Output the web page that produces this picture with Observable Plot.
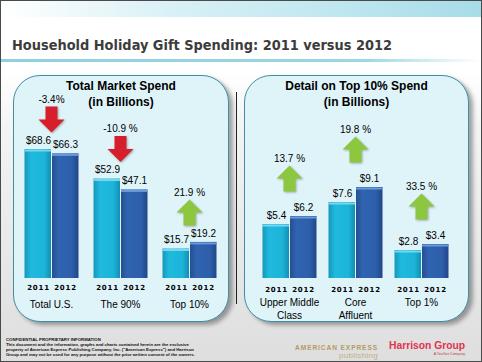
<!DOCTYPE html>
<html><head><meta charset="utf-8">
<script src="https://cdn.jsdelivr.net/npm/d3@7"></script>
<script src="https://cdn.jsdelivr.net/npm/@observablehq/plot@0.6"></script>
<style>
html,body{margin:0;padding:0;background:#fff;}
#slide{position:relative;width:482px;height:362px;overflow:hidden;background:linear-gradient(to bottom,#fff 0%,#fff 20%,#f4f4f4 35%,#dedede 100%);font-family:"Liberation Sans",Arial,sans-serif;}
.abs{position:absolute;}
#frame{left:0;top:0;width:482px;height:362px;box-sizing:border-box;border:1px solid #4a4a4a;z-index:10;}
#band{left:0;top:0;width:482px;height:17px;background:linear-gradient(to right,#fff 0%,#d9f1f6 35%,#bfe7ef 70%,#a6dce8 100%);}
#title{left:12px;top:36px;font-family:"DejaVu Sans Condensed","DejaVu Sans",sans-serif;font-weight:bold;font-size:14.4px;line-height:18px;color:#3c3c3c;white-space:nowrap;}
#rule{left:0;top:59px;width:482px;height:3px;background:linear-gradient(to right,#8fd0df 0%,#9ad6e4 75%,rgba(255,255,255,0) 100%);}
.panel{top:75px;height:247px;background:#dff4f9;border:1.5px solid #3f8fa2;border-radius:27px;box-sizing:border-box;box-shadow:4px 3px 4px rgba(0,0,0,0.35);}
.ptitle{top:78px;text-align:center;font-weight:bold;font-size:12px;line-height:16px;color:#000;}
#sep{left:236px;top:92px;width:1px;height:212px;background:#222;}
.chart{top:78px;}
#conf{left:6px;top:337px;font-size:4.3px;line-height:5px;font-weight:bold;color:#111;white-space:nowrap;}
#amex{left:290px;top:344px;width:88px;text-align:right;color:#b39b63;}
#amex .a{font-size:6.6px;letter-spacing:0.9px;font-weight:bold;line-height:8px;}
#amex .p{font-size:8px;line-height:8px;color:#c4ae80;letter-spacing:0.3px;}
#hg{left:389px;top:340px;color:#e0334e;font-weight:bold;font-size:10.3px;line-height:12px;white-space:nowrap;}
#hg .s{font-size:3.5px;line-height:4px;text-align:right;color:#b04050;font-weight:normal;}
</style></head>
<body>
<svg width="0" height="0" style="position:absolute">
<defs>
<linearGradient id="g2011" x1="0" x2="1" y1="0" y2="0">
<stop offset="0" stop-color="#1597bb"/><stop offset="0.25" stop-color="#1fbade"/><stop offset="0.75" stop-color="#1cb4d8"/><stop offset="1" stop-color="#138fb3"/>
</linearGradient>
<linearGradient id="g2012" x1="0" x2="1" y1="0" y2="0">
<stop offset="0" stop-color="#254f92"/><stop offset="0.25" stop-color="#3064b0"/><stop offset="0.75" stop-color="#2d5eaa"/><stop offset="1" stop-color="#21468a"/>
</linearGradient>
</defs>
</svg>
<div id="slide">
  <div id="band" class="abs"></div>
  <div id="title" class="abs">Household Holiday Gift Spending: 2011 versus 2012</div>
  <div id="rule" class="abs"></div>
  <div class="abs panel" style="left:13px;width:216px;"></div>
  <div class="abs panel" style="left:244px;width:225px;"></div>
  <div id="sep" class="abs"></div>
  <div id="leftChart" class="abs chart" style="left:14px;"></div>
  <div id="rightChart" class="abs chart" style="left:244px;"></div>
  <div class="abs ptitle" style="left:13px;width:216px;">Total Market Spend<br>(in Billions)</div>
  <div class="abs ptitle" style="left:244px;width:225px;">Detail on Top 10% Spend<br>(in Billions)</div>
  <div id="conf" class="abs">CONFIDENTIAL PROPRIETARY INFORMATION<br>This document and the information, graphs and charts contained herein are the exclusive<br>property of American Express Publishing Company, Inc. ("American Express") and Harrison<br>Group and may not be used for any purpose without the prior written consent of the owners.</div>
  <div id="amex" class="abs"><div class="a">AMERICAN EXPRESS</div><div class="p">publishing</div></div>
  <div id="hg" class="abs">Harrison Group<div class="s">A YouGov Company</div></div>
  <div id="frame" class="abs"></div>
</div>
<script>
const years = ["2011", "2012"];

const leftCategories = ["Total U.S.", "The 90%", "Top 10%"];
const leftSpend2011 = [68.6, 52.9, 15.7];
const leftSpend2012 = [66.3, 47.1, 19.2];
const leftChange = [-3.4, -10.9, 21.9];
const leftChangeLabels = ["-3.4%", "-10.9 %", "21.9 %"];

const rightCategories = ["Upper Middle\nClass", "Core\nAffluent", "Top 1%"];
const rightSpend2011 = [5.4, 7.6, 2.8];
const rightSpend2012 = [6.2, 9.1, 3.4];
const rightChange = [13.7, 19.8, 33.5];
const rightChangeLabels = ["13.7 %", "19.8 %", "33.5 %"];

const upArrow = {draw(c) {
  c.moveTo(0, -13); c.lineTo(13, 0); c.lineTo(6, 0); c.lineTo(6, 13);
  c.lineTo(-6, 13); c.lineTo(-6, 0); c.lineTo(-13, 0); c.closePath();
}};
const downArrow = {draw(c) {
  c.moveTo(0, 13); c.lineTo(13, 0); c.lineTo(6, 0); c.lineTo(6, -13);
  c.lineTo(-6, -13); c.lineTo(-6, 0); c.lineTo(-13, 0); c.closePath();
}};

function panel(cats, s11, s12, chg, chgLbl, cfg) {
  const bars = cats.flatMap((c, i) => [
    {cat: c, year: years[0], value: s11[i]},
    {cat: c, year: years[1], value: s12[i]}
  ]);
  const b11 = bars.filter(d => d.year === years[0]);
  const b12 = bars.filter(d => d.year === years[1]);
  const changes = cats.map((c, i) => ({cat: c, top: Math.max(s11[i], s12[i]), pct: chg[i], label: chgLbl[i]}));
  const svg = Plot.plot({
    width: cfg.width, height: 240,
    marginLeft: cfg.ml, marginRight: cfg.mr, marginTop: 12, marginBottom: 40,
    style: {background: "transparent", fontFamily: "Liberation Sans, Arial, sans-serif", overflow: "visible", color: "#000"},
    fx: {domain: cats, paddingInner: cfg.pad, paddingOuter: 0, axis: null, label: null},
    x: {domain: years, padding: 0, axis: null, label: null},
    y: {domain: [0, cfg.ymax], axis: null},
    marks: [
      Plot.barY(b11, {fx: "cat", x: "year", y: "value", fill: "url(#g2011)", insetRight: 0.5}),
      Plot.barY(b12, {fx: "cat", x: "year", y: "value", fill: "url(#g2012)", insetLeft: 0.5}),
      Plot.tickY(b11, {fx: "cat", x: "year", y: "value", stroke: "#7ad6ee", strokeWidth: 2, dy: 1, insetRight: 0.5}),
      Plot.tickY(b12, {fx: "cat", x: "year", y: "value", stroke: "#6c9ad9", strokeWidth: 2, dy: 1, insetLeft: 0.5}),
      Plot.text(bars, {fx: "cat", x: "year", y: "value", text: d => "$" + d.value.toFixed(1), dy: -9, fontSize: 10, fill: "#000"}),
      Plot.dot(changes.filter(d => d.pct < 0), {fx: "cat", y: "top", dy: cfg.arrowDy, symbol: downArrow, fill: "#d71f2b", stroke: "none"}),
      Plot.dot(changes.filter(d => d.pct >= 0), {fx: "cat", y: "top", dy: cfg.arrowDy, symbol: upArrow, fill: "#8dc63f", stroke: "none"}),
      Plot.text(changes, {fx: "cat", y: "top", dy: cfg.arrowDy - 20, text: "label", fontSize: 10, fill: "#000"}),
      Plot.axisX({tickSize: 0, tickPadding: cfg.yrPad, fontSize: 7, fontWeight: "bold", fill: "#000", fontFamily: "DejaVu Sans", label: null}),
      Plot.axisFx({anchor: "bottom", tickSize: 0, tickPadding: cfg.catPad, fontSize: 10, lineHeight: 1.3, fill: "#000", label: null})
    ]
  });
  d3.select(svg).selectAll('[aria-label="x-axis tick label"] text').style("letter-spacing", "0.8px");
  d3.select(svg).selectAll('[aria-label="dot"]').style("filter", "drop-shadow(1px 1px 1px rgba(0,0,0,0.3))");
  return svg;
}

document.getElementById("leftChart").append(panel(leftCategories, leftSpend2011, leftSpend2012, leftChange, leftChangeLabels,
  {width: 214, ml: 8.5, mr: 10.5, pad: 0.214, ymax: 100, arrowDy: -30, yrPad: 6.5, catPad: 20.5}));
document.getElementById("rightChart").append(panel(rightCategories, rightSpend2011, rightSpend2012, rightChange, rightChangeLabels,
  {width: 226, ml: 16.5, mr: 20.5, pad: 0.179, ymax: 18.8, arrowDy: -38, yrPad: 8.5, catPad: 18.5}));
</script>
</body></html>
